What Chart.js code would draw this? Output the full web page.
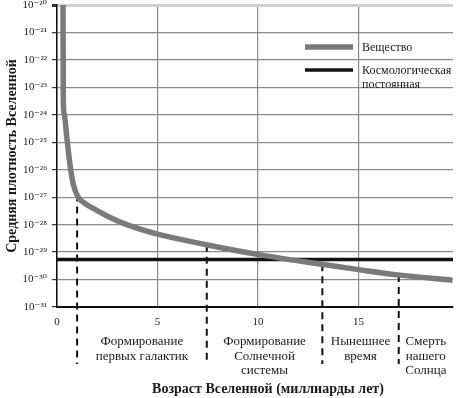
<!DOCTYPE html>
<html>
<head>
<meta charset="utf-8">
<script src="https://cdn.jsdelivr.net/npm/chart.js@4/dist/chart.umd.min.js"></script>
<style>
  body { margin: 0; background: #fff; }
  #wrap { width: 456px; height: 398px; }
</style>
</head>
<body>
<div id="wrap"><canvas id="myChart"></canvas></div>
<script>
// age of the universe, billion years
const ages = [0.30, 0.313, 0.358, 0.512, 0.682, 0.821, 1.045, 1.393, 1.806, 2.637, 3.468, 5.06, 7.43, 10.04, 13.18, 15.0, 16.94, 19.67];
// mean matter density
const matter = [1e-20, 3.5e-24, 1.07e-24, 1.02e-25, 9.8e-27, 2.75e-27, 1.02e-27, 5.9e-28, 3.9e-28, 1.82e-28, 1.0e-28, 4.4e-29, 1.86e-29, 8.1e-30, 3.6e-30, 2.3e-30, 1.48e-30, 9.5e-31];
// cosmological constant
const lambdaAges = [0, 19.7];
const lambda = [5.4e-30, 5.4e-30];

const seriesLabels = ['Вещество', 'Космологическая\nпостоянная'];

const xTicks = [0, 5, 10, 15];
const yTicks = [1e-31, 1e-30, 1e-29, 1e-28, 1e-27, 1e-26, 1e-25, 1e-24, 1e-23, 1e-22, 1e-21, 1e-20];
const yTickLabels = ['10⁻³¹', '10⁻³⁰', '10⁻²⁹', '10⁻²⁸', '10⁻²⁷', '10⁻²⁶', '10⁻²⁵', '10⁻²⁴', '10⁻²³', '10⁻²²', '10⁻²¹', '10⁻²⁰'];

// epochs marked with dashed lines
const epochAges = [1.0, 7.45, 13.2, 17.0];
const epochLabels = [
  ['Формирование', 'первых галактик'],
  ['Формирование', 'Солнечной', 'системы'],
  ['Нынешнее', 'время'],
  ['Смерть', 'нашего', 'Солнца']
];
const xTitle = 'Возраст Вселенной (миллиарды лет)';

const serif = '"Liberation Serif", "DejaVu Serif", serif';
Chart.defaults.font.family = serif;
Chart.defaults.color = '#1a1a1a';

// dashed epoch lines + labels under the axis + legend inside the plot
const extras = {
  id: 'extras',
  beforeDatasetsDraw(chart) {
    const ctx = chart.ctx;
    const x = chart.scales.x;
    const pts = chart.getDatasetMeta(0).data;
    ctx.save();
    ctx.strokeStyle = '#111';
    ctx.lineWidth = 2;
    ctx.setLineDash([7, 5]);
    epochAges.forEach(a => {
      const px = x.getPixelForValue(a);
      let top = chart.chartArea.bottom;
      for (let i = 1; i < pts.length; i++) {
        if (pts[i].x >= px) {
          const p0 = pts[i - 1], p1 = pts[i];
          top = p0.y + (p1.y - p0.y) * (px - p0.x) / (p1.x - p0.x);
          break;
        }
      }
      ctx.beginPath();
      ctx.moveTo(px, top);
      ctx.lineTo(px, 364);
      ctx.stroke();
    });
    ctx.restore();
  },
  afterDraw(chart) {
    const ctx = chart.ctx;
    const x = chart.scales.x;
    ctx.save();
    ctx.fillStyle = '#1a1a1a';
    ctx.font = '13px ' + serif;
    ctx.textAlign = 'center';
    ctx.textBaseline = 'middle';
    const edges = epochAges.concat([x.max]);
    epochLabels.forEach((lines, i) => {
      const cx = (x.getPixelForValue(edges[i]) + x.getPixelForValue(edges[i + 1])) / 2;
      lines.forEach((t, j) => ctx.fillText(t, cx, 342 + j * 14.5));
    });

    // axis title, a bit right of the plot centre as in the original
    ctx.font = 'bold 14px ' + serif;
    ctx.fillText(xTitle, 268, 389);

    // legend
    ctx.font = '12px ' + serif;
    ctx.textAlign = 'left';
    chart.data.datasets.forEach((ds, i) => {
      const y = i === 0 ? 47 : 70;
      ctx.strokeStyle = ds.borderColor;
      ctx.lineWidth = ds.borderWidth;
      ctx.beginPath();
      ctx.moveTo(305, y);
      ctx.lineTo(353, y);
      ctx.stroke();
      ds.label.split('\n').forEach((t, j) => ctx.fillText(t, 362, y + 1 + j * 13.5));
    });
    ctx.restore();
  }
};

const ctx = document.getElementById('myChart').getContext('2d');
const chart = new Chart(ctx, {
  type: 'line',
  data: {
    datasets: [
      {
        label: seriesLabels[0],
        data: ages.map((a, i) => ({ x: a, y: matter[i] })),
        borderColor: '#7a7a7a',
        borderWidth: 5.5,
        pointRadius: 0,
        cubicInterpolationMode: 'monotone'
      },
      {
        label: seriesLabels[1],
        data: lambdaAges.map((a, i) => ({ x: a, y: lambda[i] })),
        borderColor: '#111',
        borderWidth: 3.5,
        pointRadius: 0
      }
    ]
  },
  options: {
    responsive: true,
    maintainAspectRatio: false,
    animation: false,
    layout: { padding: { top: 5, right: 3 } },
    plugins: {
      legend: { display: false },
      tooltip: { enabled: false }
    },
    scales: {
      x: {
        type: 'linear',
        min: 0,
        max: 19.7,
        afterBuildTicks: s => { s.ticks = xTicks.map(v => ({ value: v })); },
        afterFit: s => { s.height = 91; },
        grid: {
          color: '#8a8a8a',
          lineWidth: 1.2,
          drawTicks: false
        },
        border: { color: '#111', width: 2 },
        ticks: {
          padding: 9,
          maxRotation: 0,
          font: { size: 11 },
          callback: v => String(v)
        }
      },
      y: {
        type: 'logarithmic',
        min: 1e-31,
        max: 1e-20,
        afterBuildTicks: s => { s.ticks = yTicks.map(v => ({ value: v })); },
        afterFit: s => {
          s.width = 57;
          // let the top tick label hang over the edge, like the original
          s.paddingTop = 0;
          s.paddingBottom = 0;
        },
        grid: {
          color: c => (c.tick && c.tick.value === 1e-20) ? '#cfcfcf' : '#8a8a8a',
          lineWidth: c => (c.tick && c.tick.value === 1e-20) ? 3 : 1.2,
          tickLength: 5,
          tickColor: '#333'
        },
        border: { color: '#111', width: 1.5 },
        ticks: {
          padding: 5,
          font: { size: 11 },
          callback: (v, i) => yTickLabels[i]
        },
        title: {
          display: true,
          text: 'Средняя плотность Вселенной',
          font: { size: 14, weight: 'bold' },
          padding: { top: 4, bottom: 0 }
        }
      }
    }
  },
  plugins: [extras]
});
</script>
</body>
</html>
